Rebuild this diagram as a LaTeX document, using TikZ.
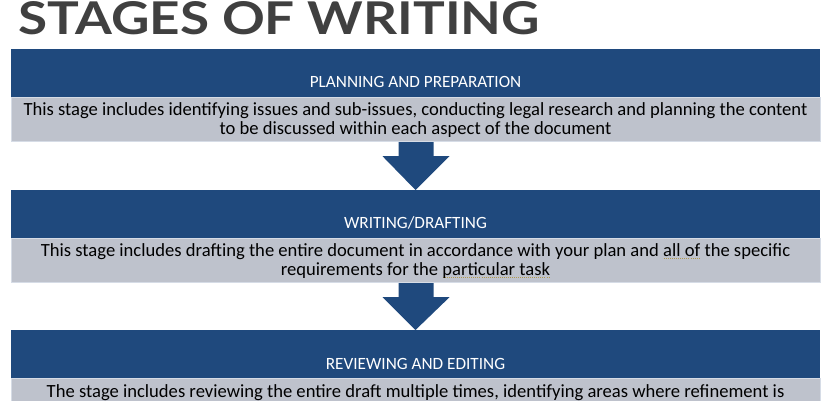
\documentclass[tikz,border=0pt]{standalone}
\usepackage{fontspec}
\setmainfont{Carlito}
\newfontfamily\titlefont{Lato}
\usetikzlibrary{calc}
\definecolor{hdrblue}{HTML}{1F497D}
\definecolor{bodygray}{HTML}{BEC2CC}
\definecolor{bodyedge}{HTML}{D6DCE6}
\definecolor{titlegray}{HTML}{404040}
\definecolor{squiggle}{HTML}{B09850}
\newsavebox\sqbox
\newcommand\squigline[1]{\sbox\sqbox{#1}\rlap{\color{squiggle}\raisebox{-2.8pt}{\hbox to \wd\sqbox{\xleaders\hbox to 2pt{\hss\rule{1pt}{0.8pt}\hss}\hfill}}}\usebox\sqbox}
\tikzset{
  hdrbox/.style={fill=hdrblue, draw=none, minimum width=809pt, minimum height=48pt, inner sep=0pt, anchor=north},
  hdrtext/.style={text=white, font=\fontsize{17.2pt}{19pt}\selectfont, inner sep=0pt, anchor=base},
  bodybox/.style={fill=bodygray, draw=bodyedge, line width=0.8pt, minimum width=809pt, minimum height=44pt, inner sep=0pt, anchor=north,
    align=center, font=\fontsize{18.6pt}{18.6pt}\selectfont, text=black},
  flowarrow/.style={fill=hdrblue, draw=none},
}
\begin{document}
\begin{tikzpicture}[x=1pt,y=1pt]
\useasboundingbox (0,0) rectangle (830,400);
\clip (0,0) rectangle (830,400);
% title
\node[anchor=base west, inner sep=0pt, text=titlegray] (title) at (18,365.5)
  {\resizebox{522pt}{33pt}{\titlefont\bfseries STAGES OF WRITING}};
% stage 1
\node[hdrbox] (h1) at (415.5,351) {};
\node[hdrtext] (t1) at ($(h1.south)+(0,10)$) {PLANNING AND PREPARATION};
\node[bodybox] (b1) at (h1.south) {This stage includes identifying issues and sub-issues, conducting legal research and planning the content\\to be discussed within each aspect of the document};
% stage 2
\node[hdrbox] (h2) at (415.5,210) {};
\node[hdrtext] (t2) at ($(h2.south)+(0,10)$) {WRITING/DRAFTING};
\node[bodybox] (b2) at (h2.south) {This stage includes drafting the entire document in accordance with your plan and \squigline{all of} the specific\\requirements for the \squigline{particular task}};
% stage 3
\node[hdrbox] (h3) at (415.5,70) {};
\node[hdrtext] (t3) at ($(h3.south)+(0,9)$) {REVIEWING AND EDITING};
\node[bodybox] (b3) at (h3.south) {The stage includes reviewing the entire draft multiple times, identifying areas where refinement is\\needed};
% arrows
\fill[flowarrow] ($(b1.south)+(-17,0)$) -- ++(0,-14) -- ++(-16,0) -- (h2.north) -- ($(b1.south)+(34,-14)$) -- ++(-16,0) -- ++(0,14) -- cycle;
\fill[flowarrow] ($(b2.south)+(-17,0)$) -- ++(0,-14) -- ++(-16,0) -- (h3.north) -- ($(b2.south)+(34,-14)$) -- ++(-16,0) -- ++(0,14) -- cycle;
\end{tikzpicture}
\end{document}
